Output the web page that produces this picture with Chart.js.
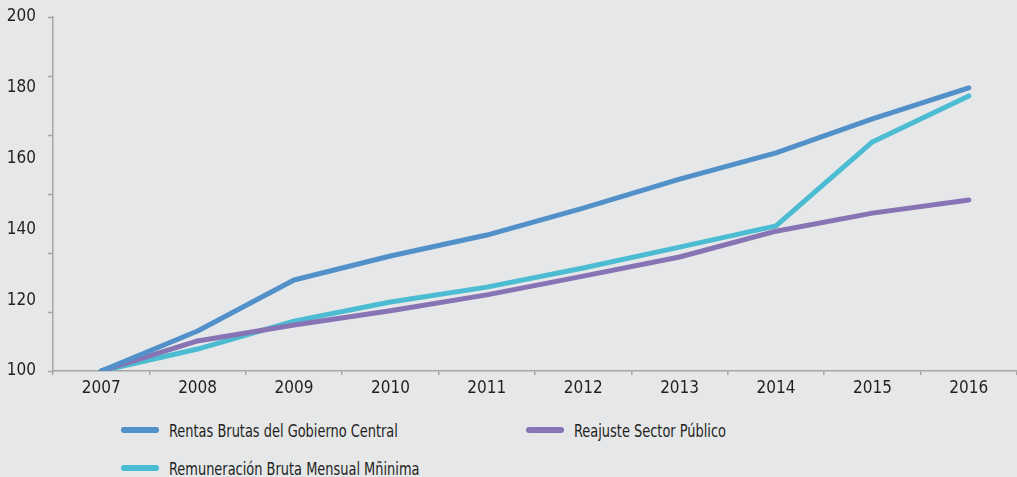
<!DOCTYPE html>
<html>
<head>
<meta charset="utf-8">
<script src="https://cdn.jsdelivr.net/npm/chart.js@4.4.1/dist/chart.umd.min.js"></script>
<style>
  html, body { margin: 0; padding: 0; background: #e6e7e9; }
  #wrap { position: relative; width: 1017px; height: 477px; background: #e6e7e9; overflow: hidden; }
  #chartBox { position: absolute; left: 0; top: 0; width: 1017px; height: 400px; }
  .legend-item { position: absolute; display: flex; align-items: center; height: 24px;
    font-family: 'DejaVu Sans Condensed', sans-serif;
    font-size: 18px; color: #231f20; white-space: nowrap; }
  .legend-item .swatch { width: 38px; height: 6px; border-radius: 3px; margin-right: 10px; flex: none; }
  .legend-item .label { display: inline-block; transform-origin: left center; transform: scaleX(0.8); }
</style>
</head>
<body>
<div id="wrap">
  <div id="chartBox"><canvas id="chart"></canvas></div>
  <div id="legend"></div>
</div>
<script>
// Categories
const years = ["2007", "2008", "2009", "2010", "2011", "2012", "2013", "2014", "2015", "2016"];

// Series values (index, 2007 = 100)
const rentasBrutas = [100, 111.3, 125.7, 132.5, 138.4, 146.0, 154.2, 161.6, 171.2, 180.0];
const reajusteSector = [100, 108.5, 113.0, 117.0, 121.5, 126.8, 132.2, 139.5, 144.6, 148.3];
const remuneracionMinima = [100, 106.2, 114.1, 119.5, 123.7, 129.1, 135.0, 141.0, 164.7, 177.7];

// Series names
const seriesNames = ["Rentas Brutas del Gobierno Central", "Reajuste Sector Público", "Remuneración Bruta Mensual Mñinima"];

const colors = {
  rentas: "#5190c8",
  reajuste: "#8774b4",
  remuneracion: "#4bbcd1",
};

const fontFamily = "'DejaVu Sans Condensed', sans-serif";
const axisColor = "#a6a6a6";
const textColor = "#231f20";

// Axis tick marks on the y axis (six even divisions, as in the original)
const yTickMarks = [100, 116.667, 133.333, 150, 166.667, 183.333, 200];

const yTickMarkPlugin = {
  id: "yTickMarks",
  afterDraw(chart) {
    const y = chart.scales.y;
    const ctx = chart.ctx;
    ctx.save();
    ctx.strokeStyle = axisColor;
    ctx.lineWidth = 1.5;
    yTickMarks.forEach(v => {
      const py = Math.round(y.getPixelForValue(v)) + 0.5;
      ctx.beginPath();
      ctx.moveTo(y.right - 5, py);
      ctx.lineTo(y.right, py);
      ctx.stroke();
    });
    ctx.restore();
  }
};

function makeDataset(label, data, color) {
  return {
    label,
    data,
    borderColor: color,
    backgroundColor: color,
    borderWidth: 5,
    borderCapStyle: "round",
    borderJoinStyle: "round",
    pointRadius: 0,
    tension: 0,
    fill: false,
  };
}

const ctx = document.getElementById("chart").getContext("2d");
new Chart(ctx, {
  type: "line",
  data: {
    labels: years,
    datasets: [
      makeDataset(seriesNames[0], rentasBrutas, colors.rentas),
      makeDataset(seriesNames[1], reajusteSector, colors.reajuste),
      makeDataset(seriesNames[2], remuneracionMinima, colors.remuneracion),
    ],
  },
  options: {
    responsive: true,
    maintainAspectRatio: false,
    animation: false,
    layout: { padding: { top: 17, right: 0, bottom: 0, left: 0 } },
    plugins: {
      legend: { display: false },
      tooltip: { enabled: false },
    },
    scales: {
      x: {
        offset: true,
        grid: {
          display: true,
          offset: true,
          drawOnChartArea: false,
          drawTicks: true,
          tickLength: 4,
          color: axisColor,
          lineWidth: 1.5,
        },
        border: { display: true, color: axisColor, width: 1.5 },
        ticks: {
          color: textColor,
          padding: 3,
          maxRotation: 0,
          font: { family: fontFamily, size: 17 },
        },
        afterFit(scale) {
          scale.height = 29;
          scale.paddingLeft = 0;
          scale.paddingRight = 0;
        },
      },
      y: {
        min: 100,
        max: 200,
        grid: { display: false, drawTicks: false },
        border: { display: true, color: axisColor, width: 1.5 },
        ticks: {
          stepSize: 20,
          color: textColor,
          padding: 17,
          font: { family: fontFamily, size: 17 },
        },
        afterFit(scale) {
          scale.width = 53;
          scale.paddingTop = 0;
          scale.paddingBottom = 0;
        },
      },
    },
  },
  plugins: [yTickMarkPlugin],
});

// Legend (two columns, as in the original)
const legendItems = [
  { name: seriesNames[0], color: colors.rentas, left: 121, top: 418 },
  { name: seriesNames[1], color: colors.reajuste, left: 526, top: 418 },
  { name: seriesNames[2], color: colors.remuneracion, left: 121, top: 456 },
];
const legendEl = document.getElementById("legend");
legendItems.forEach(item => {
  const div = document.createElement("div");
  div.className = "legend-item";
  div.style.left = item.left + "px";
  div.style.top = item.top + "px";
  const sw = document.createElement("span");
  sw.className = "swatch";
  sw.style.background = item.color;
  const tx = document.createElement("span");
  tx.className = "label";
  tx.textContent = item.name;
  div.appendChild(sw);
  div.appendChild(tx);
  legendEl.appendChild(div);
});
</script>
</body>
</html>
